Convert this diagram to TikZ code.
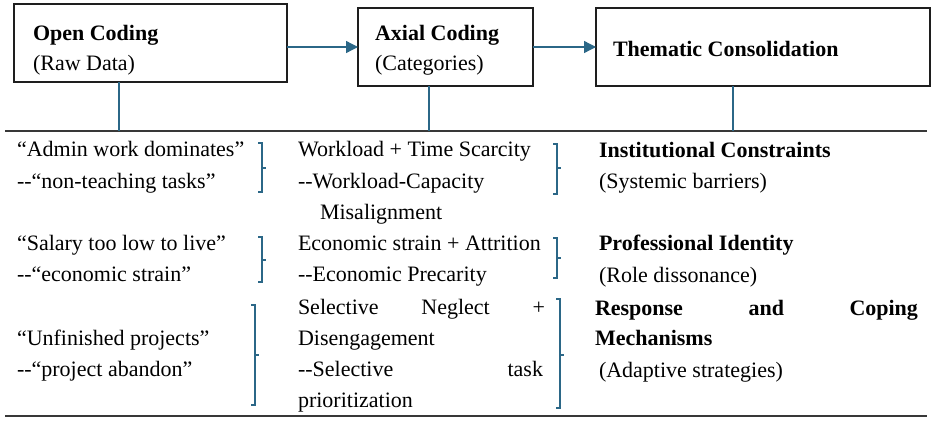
\documentclass[tikz,border=0pt]{standalone}
\usepackage{fontspec}
\setmainfont{Liberation Serif}
\usetikzlibrary{arrows.meta}
\definecolor{conn}{HTML}{2B6787}
\definecolor{rule}{HTML}{383838}
\definecolor{boxline}{HTML}{1E1E1E}
\begin{document}
\begin{tikzpicture}[x=1pt,y=-1pt,
  every node/.style={inner sep=0pt,outer sep=0pt},
  stagebox/.style={draw=boxline,line width=1.6pt,rectangle},
  txt/.style={anchor=base west,font=\fontsize{22}{31}\selectfont},
  btxt/.style={txt,font=\fontsize{22}{31}\selectfont\bfseries},
  arr/.style={draw=conn,line width=1.3pt,-{Triangle[length=12pt,width=12pt]}},
  vline/.style={draw=conn,line width=1.2pt},
  brk/.style={draw=conn,line width=1.3pt},
  tabrule/.style={draw=rule,line width=1.4pt}]
\useasboundingbox (0,0) rectangle (935,421);
% stage boxes
\node[stagebox,minimum width=273pt,minimum height=78pt] (b1) at (150.5,43) {};
\node[stagebox,minimum width=175pt,minimum height=78pt] (b2) at (445.5,47) {};
\node[stagebox,minimum width=334pt,minimum height=78pt] (b3) at (763,47) {};
\node[btxt] (b1a) at (33,40) {Open Coding};
\node[txt]  (b1b) at (33,70) {(Raw Data)};
\node[btxt] (b2a) at (375,40) {Axial Coding};
\node[txt]  (b2b) at (375,70) {(Categories)};
\node[btxt] (b3a) at (613,56) {Thematic Consolidation};
% arrows
\draw[arr] (b1.east |- b2.west) -- (b2.west);
\draw[arr] (b2.east) -- (b3.west);
% table rules
\coordinate (tl) at (5,131);
\coordinate (tr) at (927,131);
\coordinate (bl) at (5,416);
\coordinate (br) at (927,416);
\draw[tabrule] (tl) -- (tr);
\draw[tabrule] (bl) -- (br);
% vertical connectors
\coordinate (t1) at (119,131);
\coordinate (t2) at (429,131);
\coordinate (t3) at (733,131);
\draw[vline] (b1.south -| t1) -- (t1);
\draw[vline] (b2.south -| t2) -- (t2);
\draw[vline] (b3.south -| t3) -- (t3);
% left column
\node[txt] (l1) at (17,156) {“Admin work dominates”};
\node[txt] (l2) at (17,188) {-{}-“non-teaching tasks”};
\node[txt] (l3) at (17,250) {“Salary too low to live”};
\node[txt] (l4) at (17,281) {-{}-“economic strain”};
\node[txt] (l5) at (17,345) {“Unfinished projects”};
\node[txt] (l6) at (17,376) {-{}-“project abandon”};
% middle column
\node[txt] (m1) at (298,156) {Workload + Time Scarcity};
\node[txt] (m2) at (298,188) {-{}-Workload-Capacity};
\node[txt] (m3) at (320,219) {Misalignment};
\node[txt] (m4) at (298,250) {Economic strain + Attrition};
\node[txt] (m5) at (298,281) {-{}-Economic Precarity};
\node[txt] (m6) at (298,314) {\hbox to 247pt{Selective\hfill Neglect\hfill +}};
\node[txt] (m7) at (298,345) {Disengagement};
\node[txt] (m8) at (298,376) {\hbox to 245pt{-{}-Selective\hfill task}};
\node[txt] (m9) at (298,407) {prioritization};
% right column
\node[btxt] (r1) at (599,157) {Institutional Constraints};
\node[txt]  (r2) at (599,188) {(Systemic barriers)};
\node[btxt] (r3) at (599,250) {Professional Identity};
\node[txt]  (r4) at (599,282) {(Role dissonance)};
\node[btxt] (r5) at (595,315) {\hbox to 323pt{Response\hfill and\hfill Coping}};
\node[btxt] (r6) at (595,345) {Mechanisms};
\node[txt]  (r7) at (599,377) {(Adaptive strategies)};
% brackets
\draw[brk] (258,143) -- (262,143) -- (262,192) -- (258,192);
\draw[brk] (262,168) -- (266,168);
\draw[brk] (258,237) -- (262,237) -- (262,282) -- (258,282);
\draw[brk] (262,260) -- (266,260);
\draw[brk] (251,305) -- (255,305) -- (255,405) -- (251,405);
\draw[brk] (255,355) -- (259,355);
\draw[brk] (553,144) -- (557,144) -- (557,194) -- (553,194);
\draw[brk] (557,168) -- (561,168);
\draw[brk] (553,238) -- (557,238) -- (557,278) -- (553,278);
\draw[brk] (557,258) -- (561,258);
\draw[brk] (556,299) -- (560,299) -- (560,408) -- (556,408);
\draw[brk] (560,355) -- (564,355);
\end{tikzpicture}
\end{document}
